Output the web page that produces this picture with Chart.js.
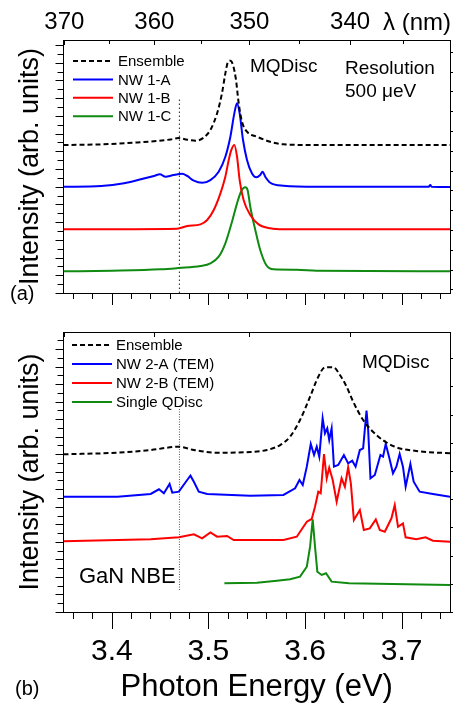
<!DOCTYPE html>
<html><head><meta charset="utf-8">
<script src="https://cdn.jsdelivr.net/npm/chart.js@4.4.0/dist/chart.umd.min.js"></script>
<style>
html,body{margin:0;padding:0;background:#fff;}
#wrap{position:relative;width:472px;height:708px;overflow:hidden;}
canvas{position:absolute;left:0;}
#ca{top:0;}
#cb{top:310px;}
</style></head><body>
<div id="wrap">
<canvas id="ca" width="472" height="310"></canvas>
<canvas id="cb" width="472" height="398"></canvas>
</div>
<script>
// ---------------- data ----------------
const HC = 1239.84; // eV*nm
const xMajorTicks = [3.4, 3.5, 3.6, 3.7];
const xTickLabels = ['3.4', '3.5', '3.6', '3.7'];
const lambdaTicksA = [370, 365, 360, 355, 350, 345, 340, 335];
const lambdaLabelsA = ['370', '', '360', '', '350', '', '340', ''];
const lambdaTicksB = [370, 360, 350, 340];
const gaNNBE = 3.47;

// Panel (a)
const aEnsE = [3.35,3.389,3.423,3.447,3.461,3.469,3.478,3.487,3.495,3.502,3.509,3.514,3.5175,3.520,3.5227,3.5255,3.5285,3.5313,3.5347,3.5399,3.550,3.564,3.5776,3.612,3.75];
const aEnsI = [16.38,16.45,16.64,16.82,17.0,17.15,16.97,16.86,17.19,18.04,19.9,22.1,24.3,25.5,25.7,25.2,23.6,21.0,18.96,17.85,17.3,16.74,16.45,16.38,16.38];
const nw1aE = [3.35,3.389,3.4127,3.430,3.4436,3.4498,3.4557,3.4626,3.4729,3.478,3.4849,3.4935,3.502,3.5106,3.5175,3.5227,3.5268,3.5296,3.5323,3.5358,3.5399,3.545,3.5495,3.5536,3.556,3.5588,3.564,3.5776,3.612,3.728,3.7296,3.731,3.75];
const nw1aI = [11.76,11.84,12.14,12.58,12.95,13.13,12.87,13.02,13.2,12.95,12.43,12.2,12.5,13.42,15.08,17.3,19.88,21.0,19.88,16.93,14.72,13.25,12.8,13.06,13.42,12.87,12.2,11.87,11.76,11.76,11.95,11.76,11.73];
const nw1bE = [3.35,3.4677,3.478,3.4918,3.4987,3.5055,3.5124,3.5175,3.521,3.5237,3.5268,3.5296,3.5323,3.5364,3.5433,3.5519,3.564,3.5776,3.75];
const nw1bI = [7.05,7.12,7.41,7.6,8.08,9.19,11.03,12.87,14.72,15.83,16.38,15.08,12.5,10.29,8.63,7.6,7.16,7.05,7.05];
const nw1cE = [3.35,3.4003,3.4505,3.4694,3.4918,3.502,3.5106,3.5175,3.5244,3.5296,3.5337,3.5381,3.5405,3.5433,3.5485,3.5536,3.5598,3.5673,3.5914,3.612,3.75];
const nw1cI = [2.4,2.47,2.62,2.77,2.99,3.28,4.02,5.5,7.89,9.92,11.21,11.7,11.4,9.55,6.97,4.76,3.1,2.62,2.58,2.47,2.4];
const aNbeI = [0, 21.7];

// Panel (b)
const bEnsE = [3.35,3.4059,3.4402,3.4694,3.4849,3.509,3.5433,3.5605,3.5742,3.5845,3.5948,3.6052,3.6137,3.6206,3.6292,3.6361,3.643,3.6498,3.6601,3.6739,3.691,3.7152,3.75];
const bEnsI = [17.72,17.9,18.2,18.57,18.2,17.9,17.98,18.2,18.76,19.7,21.57,24.19,26.44,27.49,27.49,26.63,25.31,23.63,21.57,19.89,18.65,18.09,17.83];
const nw2aE = [3.35,3.4059,3.4402,3.4488,3.4539,3.4598,3.4626,3.4694,3.478,3.4814,3.4849,3.49,3.4987,3.5433,3.5776,3.5897,3.5942,3.5976,3.6018,3.6059,3.6093,3.6121,3.6147,3.6182,3.6206,3.623,3.625,3.6275,3.6299,3.6343,3.6402,3.6446,3.6488,3.6523,3.6567,3.6601,3.6636,3.6653,3.6677,3.6722,3.678,3.6807,3.6835,3.6869,3.691,3.6945,3.6979,3.7013,3.7041,3.709,3.7124,3.7186,3.7323,3.75];
const nw2aI = [12.96,12.96,13.26,13.79,13.33,14.38,13.4,13.52,14.83,15.32,14.64,13.52,13.26,13.07,13.15,13.9,14.83,14.27,16.33,18.88,17.64,18.57,17.45,21.76,20.08,20.64,19.33,20.64,16.33,16.52,17.64,16.7,17.0,16.33,18.2,18.39,22.62,20.45,15.02,15.39,17.64,17.45,18.88,17.45,15.58,16.33,17.75,16.33,14.08,16.63,14.64,13.52,13.26,12.96];
const nw2bE = [3.35,3.4402,3.4694,3.4849,3.4935,3.502,3.509,3.5193,3.5261,3.5776,3.5914,3.6018,3.6069,3.6103,3.6137,3.6162,3.6196,3.6224,3.625,3.6286,3.6327,3.6378,3.6412,3.6446,3.6474,3.6505,3.6567,3.6608,3.667,3.6732,3.6773,3.6825,3.6894,3.6928,3.6962,3.7013,3.7041,3.7152,3.7247,3.7323,3.75];
const nw2bI = [7.94,8.17,8.39,8.73,8.28,8.95,8.46,8.54,8.09,8.09,8.46,10.15,10.45,11.83,13.52,13.34,17.75,15.02,16.21,14.83,12.39,15.02,14.08,16.26,14.46,10.34,11.46,9.21,9.4,10.41,9.21,9.02,10.53,12.02,9.58,9.96,8.39,8.17,8.39,8.01,7.9];
const sqdE = [3.5165,3.5502,3.5708,3.5845,3.5948,3.6018,3.6052,3.6079,3.6103,3.6127,3.6172,3.6217,3.6275,3.6455,3.75];
const sqdI = [3.22,3.3,3.52,3.67,3.97,5.09,7.34,10.41,7.34,4.53,4.16,4.35,3.41,3.22,3.03];
const bNbeI = [2.47, 22.9];

// ---------------- helpers ----------------
const FONT = "'Liberation Sans', Arial, Helvetica, sans-serif";
Chart.defaults.font.family = FONT;
Chart.defaults.color = '#000';

function zip(E, I) { const n = Math.min(E.length, I.length); const o = []; for (let i = 0; i < n; i++) o.push({x: E[i], y: I[i]}); return o; }
function vline(e, I) { return I.map(v => ({x: e, y: v})); }
const isMajorE = v => Math.abs(v * 10 - Math.round(v * 10)) < 1e-6;

function line(label, data, color, opts) {
  return Object.assign({label, data, borderColor: color, backgroundColor: color, borderWidth: 2,
    pointRadius: 0, fill: false, cubicInterpolationMode: 'monotone', tension: 0}, opts || {});
}

function tickPlugin(cfg) {
  return { id: 'axisTicks', afterDraw(chart) {
    const ctx = chart.ctx, ca = chart.chartArea;
    ctx.save(); ctx.strokeStyle = '#000'; ctx.lineWidth = 1;
    cfg.forEach(c => {
      const s = chart.scales[c.id]; if (!s) return;
      s.ticks.forEach((t, i) => {
        const L = c.isMajor(t.value, i) ? c.major : c.minor;
        const p = Math.round(s.getPixelForValue(t.value)) + 0.5;
        ctx.beginPath();
        if (c.side === 'bottom') { ctx.moveTo(p, ca.bottom); ctx.lineTo(p, ca.bottom + c.dir * L); }
        if (c.side === 'top') { ctx.moveTo(p, ca.top); ctx.lineTo(p, ca.top - c.dir * L); }
        if (c.side === 'left') { ctx.moveTo(ca.left, p); ctx.lineTo(ca.left - c.dir * L, p); }
        if (c.side === 'right') { ctx.moveTo(ca.right, p); ctx.lineTo(ca.right + c.dir * L, p); }
        ctx.stroke();
      });
    });
    ctx.restore();
  }};
}

function annotPlugin(texts, legend) {
  return { id: 'annot', afterDraw(chart) {
    const ctx = chart.ctx;
    ctx.save(); ctx.fillStyle = '#000'; ctx.textBaseline = 'middle'; ctx.textAlign = 'left';
    texts.forEach(t => { ctx.font = t.size + 'px ' + FONT; ctx.fillText(t.text, t.x, t.y); });
    legend.idx.forEach((di, k) => {
      const ds = chart.data.datasets[di];
      const y = legend.y + k * legend.dy;
      ctx.beginPath(); ctx.strokeStyle = ds.borderColor; ctx.lineWidth = 2;
      ctx.setLineDash(ds.borderDash || []);
      ctx.moveTo(legend.x, y); ctx.lineTo(legend.x + legend.len, y); ctx.stroke();
      ctx.setLineDash([]);
      ctx.font = legend.size + 'px ' + FONT; ctx.fillStyle = '#000';
      ctx.fillText(ds.label, legend.x + legend.len + legend.gap, y + 1);
    });
    ctx.restore();
  }};
}

function buildScales(p) {
  const border = {display: true, color: '#000', width: 1};
  return {
    x: { type: 'linear', position: 'bottom', min: 3.35, max: 3.75,
      afterBuildTicks: s => { const t = []; for (let k = 0; k < 20; k++) t.push({value: +(3.36 + 0.02 * k).toFixed(2)}); s.ticks = t; },
      ticks: { display: p.showX, autoSkip: false, maxRotation: 0, minRotation: 0, padding: 22, font: {size: 30},
        callback: v => { const i = xMajorTicks.findIndex(m => Math.abs(m - v) < 1e-6); return i >= 0 ? xTickLabels[i] : ''; } },
      grid: {display: false, drawTicks: false}, border,
      title: {display: p.showX, text: 'Photon Energy (eV)', font: {size: 31}, padding: {top: 0, bottom: 2}},
      afterFit: s => { s.height = p.xH; } },
    x2: { type: 'linear', position: 'top', min: 3.35, max: 3.75,
      afterBuildTicks: s => { s.ticks = p.lambdaTicks.map(l => ({value: HC / l})); },
      ticks: { display: p.showTop, autoSkip: false, maxRotation: 0, minRotation: 0, padding: 3, font: {size: 24},
        callback: (v, i) => (p.lambdaLabels ? p.lambdaLabels[i] : '') },
      grid: {display: false, drawTicks: false}, border,
      afterFit: s => { s.height = p.topH; } },
    y: { type: 'linear', position: 'left', min: 0, max: p.yMax,
      afterBuildTicks: s => { const t = []; for (let k = 0; k * p.leftStep <= p.yMax + 1e-9; k++) t.push({value: k * p.leftStep}); s.ticks = t; },
      ticks: {display: false}, grid: {display: false, drawTicks: false}, border,
      title: {display: true, text: 'Intensity (arb. units)', font: {size: 27}, padding: {top: 14, bottom: 0}},
      afterFit: s => { s.width = 63.5; } },
    y2: { type: 'linear', position: 'right', min: 0, max: p.yMax,
      afterBuildTicks: s => { const t = []; for (let k = 0; p.rightStart + k * p.rightStep <= p.yMax - 1; k++) t.push({value: p.rightStart + k * p.rightStep}); s.ticks = t; },
      ticks: {display: false}, grid: {display: false, drawTicks: false}, border,
      afterFit: s => { s.width = 22; } }
  };
}

function tickCfg(p) {
  return [
    {id: 'x', side: 'bottom', dir: 1, minor: p.xMinor, major: p.xMajor, isMajor: v => isMajorE(v)},
    {id: 'x2', side: 'top', dir: -1, minor: 4, major: 5, isMajor: v => Math.round(HC / v) % 10 === 0},
    {id: 'y', side: 'left', dir: 1, minor: 6, major: 8, isMajor: (v, i) => i % 2 === 0},
    {id: 'y2', side: 'right', dir: 1, minor: 3, major: 3, isMajor: () => true}
  ];
}

const common = { responsive: false, animation: false, events: [], devicePixelRatio: 1,
  layout: {padding: 0, autoPadding: false},
  plugins: {legend: {display: false}, tooltip: {enabled: false}} };

// ---------------- panel (a) ----------------
const pA = {showX: false, xH: 17, showTop: true, topH: 40, lambdaTicks: lambdaTicksA, lambdaLabels: lambdaLabelsA,
  yMax: 28, leftStep: 0.98, rightStart: 0.41, rightStep: 2.19, xMinor: 6, xMajor: 12};
new Chart(document.getElementById('ca'), {
  type: 'line',
  data: { datasets: [
    line('Ensemble', zip(aEnsE, aEnsI), '#000', {borderDash: [5, 3]}),
    line('NW 1-A', zip(nw1aE, nw1aI), '#0000ff'),
    line('NW 1-B', zip(nw1bE, nw1bI), '#ff0000'),
    line('NW 1-C', zip(nw1cE, nw1cI), '#108a10'),
    line('', vline(gaNNBE, aNbeI), '#444', {borderWidth: 1.2, borderDash: [1.5, 2.5], cubicInterpolationMode: 'default'})
  ]},
  options: Object.assign({}, common, {scales: buildScales(pA)}),
  plugins: [tickPlugin(tickCfg(pA)), annotPlugin([
    {text: '\u03bb (nm)', x: 383, y: 23, size: 24},
    {text: 'MQDisc', x: 250, y: 67, size: 19},
    {text: 'Resolution', x: 345, y: 69, size: 19},
    {text: '500 \u03bceV', x: 345, y: 92, size: 19},
    {text: '(a)', x: 10, y: 294, size: 20}
  ], {x: 73, y: 61, dy: 18.4, len: 40, gap: 5, size: 15, idx: [0, 1, 2, 3]})]
});

// ---------------- panel (b) ----------------
const pB = {showX: true, xH: 96, showTop: false, topH: 22, lambdaTicks: lambdaTicksB, lambdaLabels: null,
  yMax: 31.46, leftStep: 0.985, rightStart: 0, rightStep: 3.17, xMinor: 7, xMajor: 17};
new Chart(document.getElementById('cb'), {
  type: 'line',
  data: { datasets: [
    line('Ensemble', zip(bEnsE, bEnsI), '#000', {borderDash: [5, 3]}),
    line('NW 2-A (TEM)', zip(nw2aE, nw2aI), '#0000ff', {cubicInterpolationMode: 'default'}),
    line('NW 2-B (TEM)', zip(nw2bE, nw2bI), '#ff0000', {cubicInterpolationMode: 'default'}),
    line('Single QDisc', zip(sqdE, sqdI), '#108a10', {cubicInterpolationMode: 'default'}),
    line('', vline(gaNNBE, bNbeI), '#555', {borderWidth: 1, borderDash: [1, 1.5], cubicInterpolationMode: 'default'})
  ]},
  options: Object.assign({}, common, {scales: buildScales(pB)}),
  plugins: [tickPlugin(tickCfg(pB)), annotPlugin([
    {text: 'MQDisc', x: 362, y: 53, size: 19},
    {text: 'GaN NBE', x: 79, y: 267, size: 22},
    {text: '(b)', x: 15, y: 379, size: 20}
  ], {x: 72, y: 35, dy: 19, len: 40, gap: 4, size: 15, idx: [0, 1, 2, 3]})]
});
</script>
</body></html>
